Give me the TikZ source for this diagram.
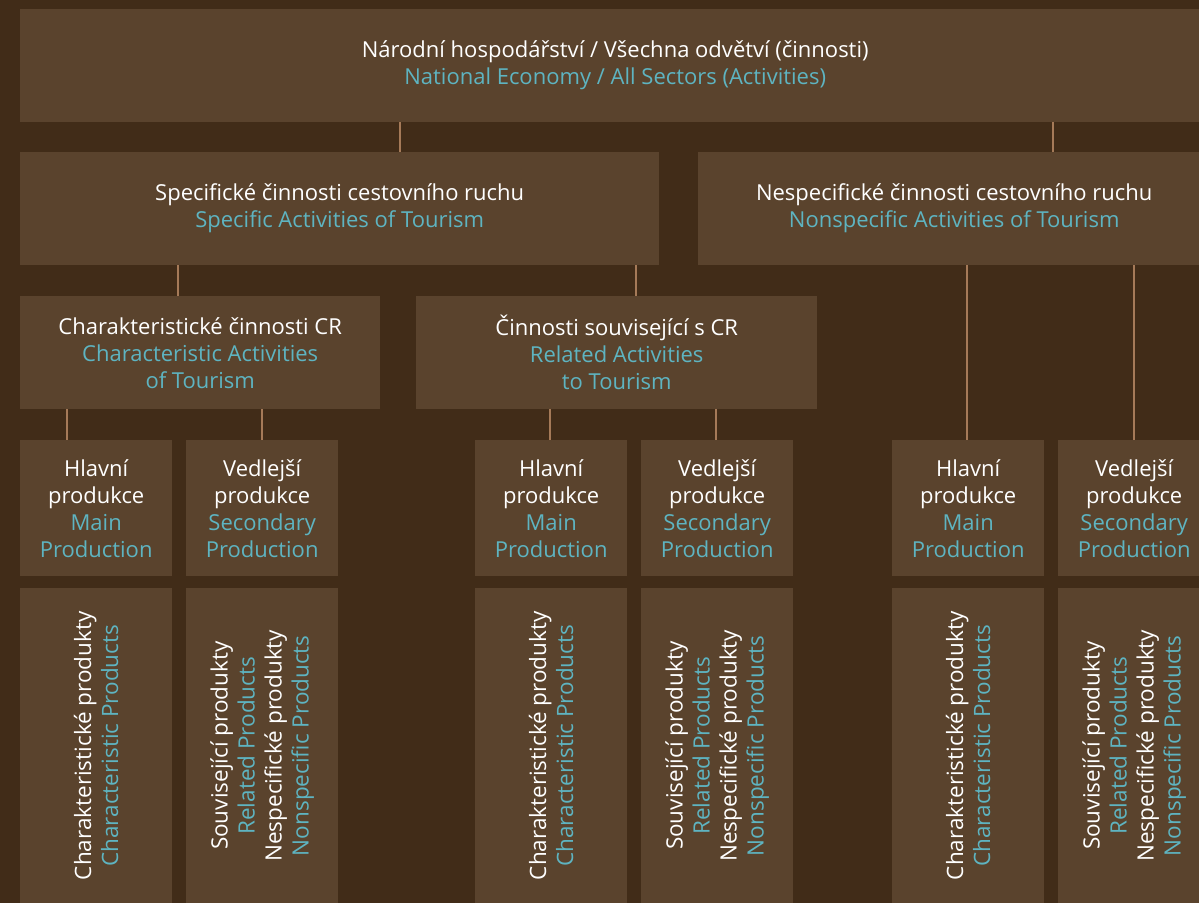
\documentclass[tikz,border=0pt]{standalone}
\usepackage{fontspec}
\setmainfont{Open Sans}
\usetikzlibrary{positioning}
\definecolor{bgc}{HTML}{412C18}
\definecolor{boxc}{HTML}{5A432D}
\definecolor{linkc}{HTML}{A57A58}
\definecolor{engc}{HTML}{5EB4C1}
\newcommand{\en}[1]{\textcolor{engc}{#1}}
\tikzset{
  box/.style={anchor=north west, fill=boxc, inner sep=0pt, align=center, text=white,
    font=\fontsize{22}{27}\selectfont},
  rottext/.style={rotate=90, align=center, text=white, inner sep=0pt,
    font=\fontsize{22.5}{27}\selectfont},
  link/.style={draw=linkc, line width=2pt},
}
\begin{document}
\begin{tikzpicture}[x=1pt,y=-1pt]
        \useasboundingbox (0,0) rectangle (1199,903);
        \clip (0,0) rectangle (1199,903);
        \fill[bgc] (0,0) rectangle (1199,903);

        % level 1 and 2
        \node[box, minimum width=1190pt, minimum height=113pt] (nat) at (20,9)
        {Národní hospodářství / Všechna odvětví (činnosti)\\\en{National Economy / All Sectors (Activities)}};
        \node[box, minimum width=639pt, minimum height=113pt] (spec) at (20,152)
        {Specifické činnosti cestovního ruchu\\\en{Specific Activities of Tourism}};
        \node[box, minimum width=512pt, minimum height=113pt] (nonspec) at (698,152)
        {Nespecifické činnosti cestovního ruchu\\\en{Nonspecific Activities of Tourism}};

        % level 3
        \node[box, minimum width=360pt, minimum height=113pt] (char) at (20,296)
        {Charakteristické činnosti CR\\\en{Characteristic Activities}\\\en{of Tourism}};
        \node[box, minimum width=401pt, minimum height=113pt] (rel) at (416,296)
        {Činnosti související s CR\\\en{Related Activities}\\\en{to Tourism}};

        % level 4
        \node[box, minimum width=152pt, minimum height=136pt] (hl1) at (20,440)
        {Hlavní\\produkce\\\en{Main}\\\en{Production}};
        \node[box, minimum width=152pt, minimum height=136pt] (ved1) at (186,440)
        {Vedlejší\\produkce\\\en{Secondary}\\\en{Production}};
        \node[box, minimum width=152pt, minimum height=136pt] (hl2) at (475,440)
        {Hlavní\\produkce\\\en{Main}\\\en{Production}};
        \node[box, minimum width=152pt, minimum height=136pt] (ved2) at (641,440)
        {Vedlejší\\produkce\\\en{Secondary}\\\en{Production}};
        \node[box, minimum width=152pt, minimum height=136pt] (hl3) at (892,440)
        {Hlavní\\produkce\\\en{Main}\\\en{Production}};
        \node[box, minimum width=152pt, minimum height=136pt] (ved3) at (1058,440)
        {Vedlejší\\produkce\\\en{Secondary}\\\en{Production}};

        % level 5
        \node[box, minimum width=152pt, minimum height=315pt] (cp1) at (20,588) {};
        \node[box, minimum width=152pt, minimum height=315pt] (rp1) at (186,588) {};
        \node[box, minimum width=152pt, minimum height=315pt] (cp2) at (475,588) {};
        \node[box, minimum width=152pt, minimum height=315pt] (rp2) at (641,588) {};
        \node[box, minimum width=152pt, minimum height=315pt] (cp3) at (892,588) {};
        \node[box, minimum width=152pt, minimum height=315pt] (rp3) at (1058,588) {};
        \foreach \n in {cp1,cp2,cp3}
          \node[rottext] (\n t) at (\n) {Charakteristické produkty\\\en{Characteristic Products}};
        \foreach \n in {rp1,rp2,rp3}
          \node[rottext] (\n t) at (\n) {Související produkty\\\en{Related Products}\\Nespecifické produkty\\\en{Nonspecific Products}};

        % connectors
        \draw[link] (nat.south -| 400,0) -- (spec.north -| 400,0);
        \draw[link] (nat.south -| 1053,0) -- (nonspec.north -| 1053,0);
        \draw[link] (spec.south -| 178,0) -- (char.north -| 178,0);
        \draw[link] (spec.south -| 636,0) -- (rel.north -| 636,0);
        \draw[link] (char.south -| 67,0) -- (hl1.north -| 67,0);
        \draw[link] (char.south -| 262,0) -- (ved1.north -| 262,0);
        \draw[link] (rel.south -| 550,0) -- (hl2.north -| 550,0);
        \draw[link] (rel.south -| 716,0) -- (ved2.north -| 716,0);
        \draw[link] (nonspec.south -| 967,0) -- (hl3.north -| 967,0);
        \draw[link] (nonspec.south -| 1134,0) -- (ved3.north -| 1134,0);
\end{tikzpicture}
\end{document}
